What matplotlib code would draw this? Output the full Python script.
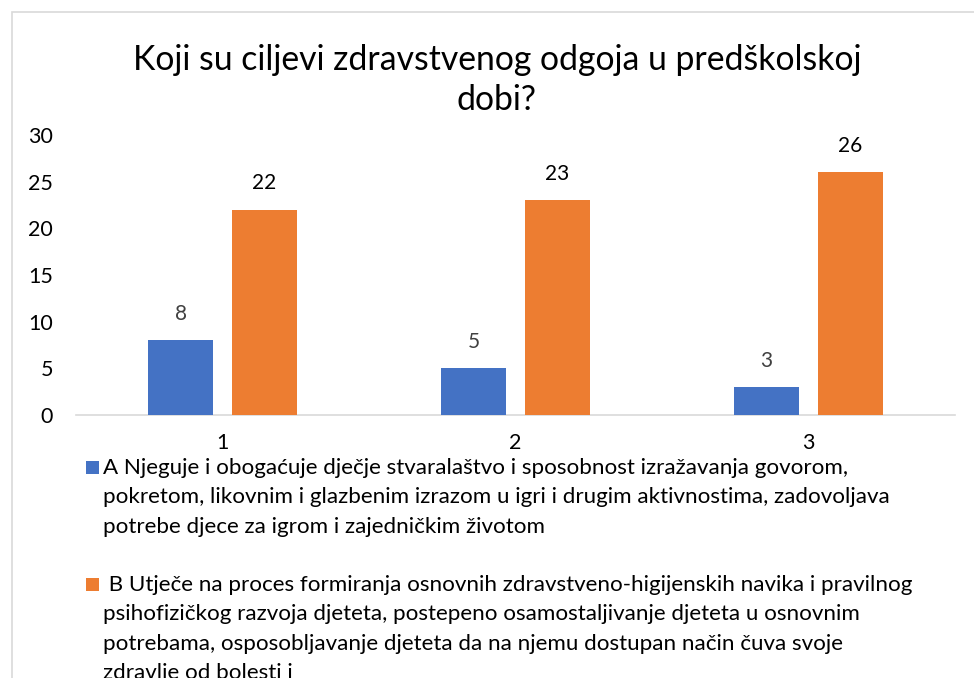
import matplotlib
matplotlib.use("Agg")
import matplotlib.pyplot as plt
from matplotlib.patches import Rectangle

plt.rcParams['font.family'] = ['Lato', 'DejaVu Sans']

categories = ["1", "2", "3"]
series_a = [8, 5, 3]
series_b = [22, 23, 26]
title_lines = ["Koji su ciljevi zdravstvenog odgoja u predškolskoj", "dobi?"]
legend_a = ["A Njeguje i obogaćuje dječje stvaralaštvo i sposobnost izražavanja govorom,",
            "pokretom, likovnim i glazbenim izrazom u igri i drugim aktivnostima, zadovoljava",
            "potrebe djece za igrom i zajedničkim životom"]
legend_b = [" B Utječe na proces formiranja osnovnih zdravstveno-higijenskih navika i pravilnog",
            "psihofizičkog razvoja djeteta, postepeno osamostaljivanje djeteta u osnovnim",
            "potrebama, osposobljavanje djeteta da na njemu dostupan način čuva svoje",
            "zdravlje od bolesti i"]

BLUE = "#4472C4"
ORANGE = "#ED7D31"

W, H = 974, 678
fig = plt.figure(figsize=(W / 100, H / 100), dpi=100)
fig.patch.set_facecolor("white")

def fx(px):
    return px / W

def fy(py):
    return 1 - py / H

# chart area border (extends beyond right / bottom edge)
fig.add_artist(Rectangle((fx(12), fy(720)), fx(1100), 708 / H, transform=fig.transFigure,
                         fill=False, edgecolor="#D9D9D9", linewidth=1.2))

ax = fig.add_axes([fx(76), fy(415), fx(955) - fx(76), (415 - 135) / H])
x = list(range(1, len(categories) + 1))
w = 0.222
off = 0.143
ba = ax.bar([v - off for v in x], series_a, width=w, color=BLUE, zorder=3)
bb = ax.bar([v + off for v in x], series_b, width=w, color=ORANGE, zorder=3)
ax.set_xlim(0.5, 3.5)
ax.set_ylim(0, 30)
ax.set_yticks(range(0, 31, 5))
ax.set_xticks(x)
ax.set_xticklabels(categories)
for s in ["top", "right", "left"]:
    ax.spines[s].set_visible(False)
ax.spines["bottom"].set_color("#D9D9D9")
ax.spines["bottom"].set_linewidth(1.2)
ax.tick_params(axis="both", length=0, labelsize=15.5, colors="#000000")
ax.tick_params(axis="y", pad=16.5)
ax.tick_params(axis="x", pad=13)

for bars, col in ((ba, "#404040"), (bb, "#000000")):
    for r in bars:
        ax.annotate(f"{int(r.get_height())}", (r.get_x() + r.get_width() / 2, r.get_height()),
                    xytext=(0, 19), textcoords="offset points", ha="center", va="center",
                    fontsize=15, color=col)

fig.canvas.draw()
renderer = fig.canvas.get_renderer()

def fit_size(text, target_px, base=20):
    t = fig.text(0, 0, text, fontsize=base)
    wpx = t.get_window_extent(renderer).width
    t.remove()
    return base * target_px / wpx

ts = fit_size(title_lines[0], 730)
fig.text(fx(497), fy(60), title_lines[0], fontsize=ts, ha="center", va="center", color="#000000")
fig.text(fx(497), fy(100), title_lines[1], fontsize=ts, ha="center", va="center", color="#000000")

ls = fit_size(legend_a[0], 743)
line_gap = 29.3
for i, line in enumerate(legend_a):
    fig.text(fx(103), fy(468 + i * line_gap), line, fontsize=ls, ha="left", va="center", color="#000000")
for i, line in enumerate(legend_b):
    fig.text(fx(103), fy(585 + i * line_gap), line, fontsize=ls, ha="left", va="center", color="#000000")

fig.add_artist(Rectangle((fx(86), fy(474)), fx(13), 13 / H, transform=fig.transFigure,
                         facecolor=BLUE, edgecolor="none"))
fig.add_artist(Rectangle((fx(86), fy(591)), fx(13), 13 / H, transform=fig.transFigure,
                         facecolor=ORANGE, edgecolor="none"))

fig.savefig("out.png", dpi=100)
